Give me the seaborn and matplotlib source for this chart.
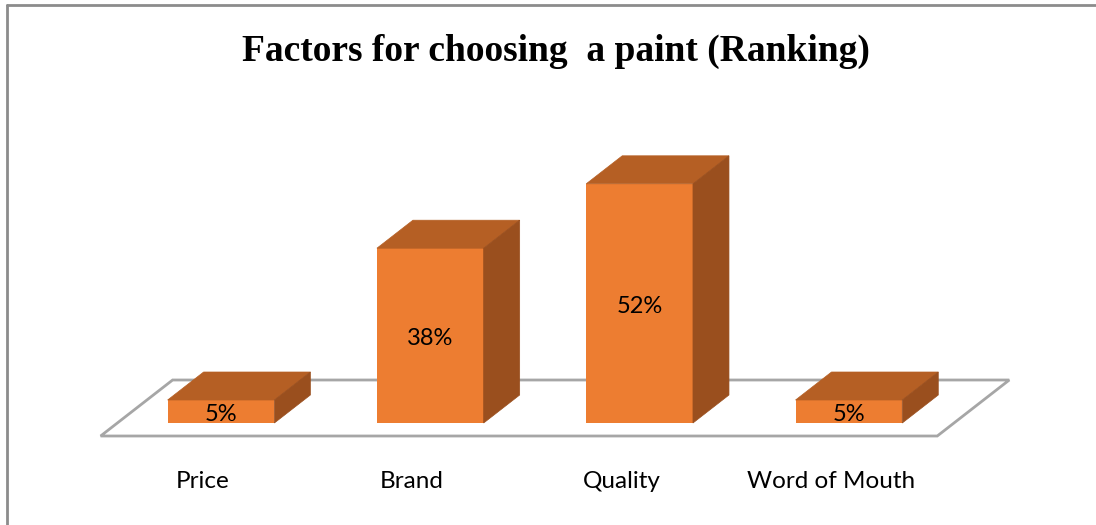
import matplotlib
matplotlib.use("Agg")
import matplotlib.pyplot as plt
from matplotlib.patches import Polygon
from matplotlib.lines import Line2D
import seaborn as sns
import numpy as np

categories = ["Price", "Brand", "Quality", "Word of Mouth"]
shares = [5, 38, 52, 5]
value_labels = ["5%", "38%", "52%", "5%"]
title = "Factors for choosing  a paint (Ranking)"

FRONT = "#ED7D31"
TOP = "#B55F24"
SIDE = "#9A4F1E"
FLOOR = "#A6A6A6"

DEPTH = np.array([36.0, 28.0])        # bar depth offset in pixels (right, up)
FLOOR_PAD = np.array([-17.0, -13.0])  # floor front corner relative to bar fronts

sns.set_theme(style="white")
plt.rcParams["font.family"] = ["Lato", "DejaVu Sans"]
plt.rcParams["text.color"] = "black"

W, H, DPI = 1096, 525, 100
fig = plt.figure(figsize=(W / DPI, H / DPI), dpi=DPI)
ax = fig.add_axes([0, 0, 1, 1])

# horizontal: category origin and spacing in pixels; vertical: baseline and scale
x0_px, step_px = 221.0, 209.3
y0_px, scale_px = 102.0, 4.6

sns.barplot(x=categories, y=shares, color=FRONT, saturation=1, width=0.51,
            ax=ax, zorder=3, linewidth=0)
ax.set_xlim(-x0_px / step_px, (W - x0_px) / step_px)
ax.set_ylim(-y0_px / scale_px, (H - y0_px) / scale_px)
ax.set_axis_off()

to_px = ax.transData
to_data = ax.transData.inverted()

# floor parallelogram spanning all categories
bars = list(ax.patches)
left_px = np.array(to_px.transform((bars[0].get_x(), 0)))
right_px = np.array(to_px.transform((bars[-1].get_x() + bars[-1].get_width(), 0)))
fl = left_px + FLOOR_PAD + np.array([-50.0, 0])
fr = right_px + np.array([35.0, FLOOR_PAD[1]])
floor_px = np.array([fl, fr, fr + 2 * DEPTH, fl + 2 * DEPTH])
ax.add_patch(Polygon(to_data.transform(floor_px), closed=True, facecolor="white",
                     edgecolor=FLOOR, linewidth=2, zorder=1))

# top and side faces for each bar, plus the value label on the front face
for bar, lab in zip(bars, value_labels):
    x, w, h = bar.get_x(), bar.get_width(), bar.get_height()
    br = np.array(to_px.transform((x + w, 0)))
    tl = np.array(to_px.transform((x, h)))
    tr = np.array(to_px.transform((x + w, h)))
    top = [tl, tr, tr + DEPTH, tl + DEPTH]
    side = [br, tr, tr + DEPTH, br + DEPTH]
    ax.add_patch(Polygon(to_data.transform(top), closed=True, facecolor=TOP,
                         edgecolor=TOP, linewidth=0.5, zorder=3))
    ax.add_patch(Polygon(to_data.transform(side), closed=True, facecolor=SIDE,
                         edgecolor=SIDE, linewidth=0.5, zorder=3))
    ax.text(x + w / 2, h / 2 - 0.6, lab, ha="center", va="center",
            fontsize=17, color="black", zorder=5)

# category labels beneath the floor
label_y = to_data.transform((0, 43))[1]
for i, cat in enumerate(categories):
    ax.text(i - 0.087, label_y, cat, ha="center", va="center", fontsize=17.5,
            color="black")

fig.text(0.507, 0.902, title, ha="center", va="center", fontsize=27,
         fontweight="bold", color="black",
         family=["Liberation Serif", "DejaVu Serif"])

# chart frame (top and left edges)
fig.add_artist(Line2D([7 / W, 1], [1 - 5 / H, 1 - 5 / H], color="#8C8C8C",
                      linewidth=2, transform=fig.transFigure))
fig.add_artist(Line2D([7 / W, 7 / W], [0, 1 - 5 / H], color="#8C8C8C",
                      linewidth=2, transform=fig.transFigure))

fig.savefig("out.png", dpi=DPI)
